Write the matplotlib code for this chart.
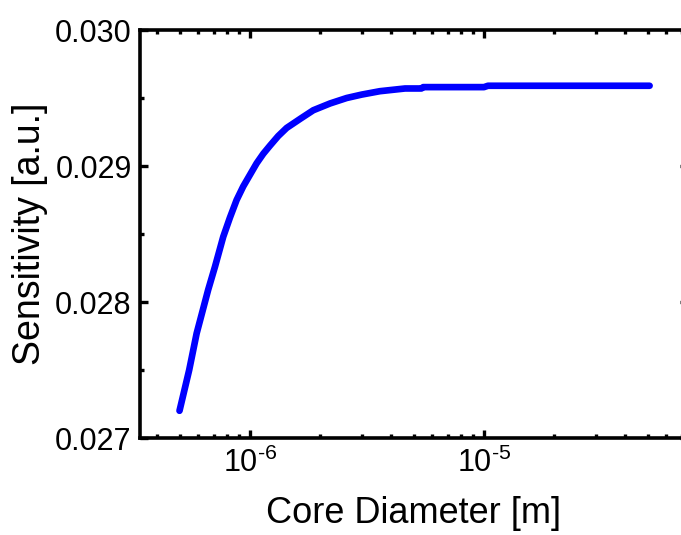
import numpy as np
import matplotlib
matplotlib.use('Agg')
import matplotlib.pyplot as plt
from matplotlib.ticker import LogLocator, MultipleLocator, FormatStrFormatter, FuncFormatter

plt.rcParams['font.family'] = ['Liberation Sans', 'DejaVu Sans']
plt.rcParams['mathtext.fontset'] = 'custom'
plt.rcParams['mathtext.rm'] = 'Liberation Sans'
plt.rcParams['mathtext.it'] = 'Liberation Sans'

# core diameter [m] vs sensitivity [a.u.]
diameter = [5.0e-7, 5.5e-7, 5.92e-7, 6.63e-7, 7.09e-7, 7.69e-7, 8.21e-7, 8.77e-7,
            9.36e-7, 1.068e-6, 1.14e-6, 1.218e-6, 1.32e-6, 1.435e-6, 1.65e-6,
            1.865e-6, 2.2e-6, 2.59e-6, 3.0e-6, 3.59e-6,
            4.6e-6, 5.4e-6, 5.5e-6, 1.0e-5, 1.04e-5, 2.0e-5, 5.1e-5]
sensitivity = [0.02720, 0.02750, 0.02777, 0.02809, 0.02826, 0.02848, 0.02862, 0.02875,
               0.02885, 0.02902, 0.02909, 0.02915, 0.02922, 0.02928, 0.02935,
               0.02941, 0.02946, 0.02950, 0.029525, 0.02955,
               0.02957, 0.02957, 0.02958, 0.02958, 0.02959, 0.02959, 0.02959]


def sci(x, pos):
    e = int(round(np.log10(x)))
    return r'$\mathdefault{10^{\text{-}%d}}$' % abs(e) if e < 0 else r'$\mathdefault{10^{%d}}$' % e


fig = plt.figure(figsize=(6.81, 5.35), dpi=100)
ax = fig.add_axes([140/681, 97/535, 548/681, 408/535])

ax.plot(diameter, sensitivity, color='#0000ff', lw=4.8, solid_capstyle='round')

ax.set_xscale('log')
ax.set_xlim(3.39e-7, 7.44e-5)
ax.set_ylim(0.027, 0.030)
ax.xaxis.set_major_locator(LogLocator(base=10, numticks=10))
ax.xaxis.set_minor_locator(LogLocator(base=10, subs=np.arange(2, 10), numticks=20))
ax.xaxis.set_major_formatter(FuncFormatter(sci))
ax.yaxis.set_major_locator(MultipleLocator(0.001))
ax.yaxis.set_minor_locator(MultipleLocator(0.0005))
ax.yaxis.set_major_formatter(FormatStrFormatter('%.3f'))

for s in ax.spines.values():
    s.set_linewidth(2.6)
ax.tick_params(which='major', direction='in', length=5.5, width=2.4, labelsize=22,
               top=True, right=True, pad=7)
ax.tick_params(which='minor', direction='in', length=3, width=2.4,
               top=True, right=True)
ax.tick_params(axis='y', which='major', pad=6)

ax.set_xlabel('Core Diameter [m]', fontsize=26, labelpad=12)
ax.set_ylabel('Sensitivity [a.u.]', fontsize=27, labelpad=5)

fig.savefig('out.png', dpi=100)
